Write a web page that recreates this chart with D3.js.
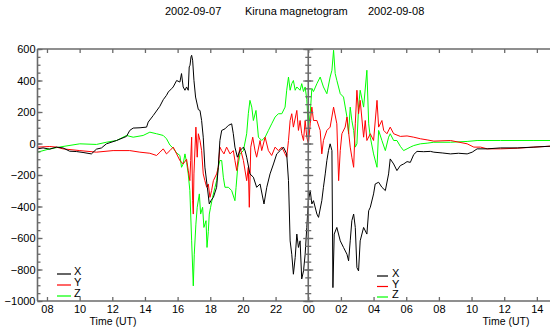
<!DOCTYPE html>
<html><head><meta charset="utf-8">
<script src="https://cdn.jsdelivr.net/npm/d3@7"></script>
<style>
body{margin:0;background:#fff}
svg{display:block}
text{font-family:"Liberation Sans",Arial,sans-serif;fill:#000}
</style>
</head><body>
<svg id="c" width="550" height="328"></svg>
<script>
// Time in decimal hours from 2002-09-07 00:00 UT, value in nT
const seriesX = [[7.42,-34],[7.76,-28],[8.17,-36],[8.58,-23],[8.98,-28],[9.39,-49],[9.80,-51],[10.21,-57],[10.72,-66],[11.03,-36],[11.34,-28],[11.64,-2],[12.26,19],[12.87,45],[13.07,83],[13.28,98],[13.70,100],[14.10,104],[14.20,136],[14.51,178],[14.91,236],[15.12,278],[15.32,306],[15.43,327],[15.63,348],[15.73,359],[15.94,400],[16.14,390],[16.24,444],[16.34,359],[16.45,338],[16.55,359],[16.65,338],[16.71,486],[16.76,497],[16.82,550],[16.86,560],[16.92,529],[17.00,401],[17.10,295],[17.27,215],[17.37,210],[17.47,146],[17.57,40],[17.67,-150],[17.82,-278],[17.94,-384],[18.04,-363],[18.19,-342],[18.39,-278],[18.49,-151],[18.59,19],[18.70,83],[18.90,93],[19.11,115],[19.31,125],[19.41,62],[19.51,-23],[19.66,-87],[19.82,-45],[20.03,-23],[20.13,-45],[20.23,-87],[20.43,-193],[20.64,-214],[20.84,-278],[21.05,-257],[21.29,-384],[21.46,-278],[21.66,-193],[21.87,-130],[22.07,-66],[22.28,-45],[22.48,-23],[22.68,-66],[22.79,-236],[22.89,-618],[22.99,-703],[23.09,-830],[23.20,-724],[23.30,-575],[23.40,-660],[23.50,-618],[23.60,-860],[23.71,-809],[23.81,-703],[23.91,-533],[24.01,-363],[24.12,-299],[24.22,-384],[24.32,-363],[24.53,-448],[24.63,-469],[24.83,-363],[24.93,-278],[25.04,-193],[25.14,-108],[25.24,-45],[25.34,-2],[25.45,-45],[25.51,-915],[25.59,-575],[25.75,-533],[25.96,-618],[26.16,-660],[26.37,-703],[26.47,-745],[26.57,-618],[26.67,-490],[26.78,-448],[26.88,-533],[26.98,-788],[27.08,-809],[27.18,-618],[27.39,-533],[27.59,-575],[27.70,-427],[27.80,-405],[28.00,-320],[28.10,-257],[28.31,-246],[28.51,-278],[28.72,-299],[28.92,-193],[29.02,-98],[29.23,-130],[29.43,-172],[29.64,-140],[29.84,-130],[30.05,-115],[30.25,-120],[30.46,-70],[30.66,-50],[31.07,-52],[31.48,-50],[31.69,-55],[32.20,-60],[32.71,-66],[33.20,-62],[33.73,-66],[34.04,-55],[34.34,-34],[34.96,-34],[35.77,-28],[36.80,-28],[37.82,-23],[38.84,-17],[39.0,-17]];

const seriesY = [[7.42,-23],[8.17,-19],[8.58,-23],[8.98,-34],[10.01,-45],[11.03,-55],[12.05,-45],[13.07,-45],[13.69,-55],[14.30,-62],[14.71,-76],[14.92,-55],[15.12,-34],[15.32,-66],[15.53,-45],[15.73,-23],[15.94,-66],[16.14,-108],[16.34,-130],[16.55,-100],[16.65,-170],[16.75,-236],[16.80,-108],[16.86,40],[16.92,-363],[16.96,-448],[17.00,-193],[17.12,104],[17.20,-87],[17.27,62],[17.37,19],[17.47,-45],[17.57,-193],[17.67,-236],[17.78,-278],[17.88,-257],[17.98,-342],[18.08,-299],[18.19,-236],[18.39,-193],[18.49,-151],[18.59,-23],[18.70,-45],[18.84,-66],[19.00,-23],[19.21,-66],[19.41,-45],[19.51,-108],[19.62,-172],[19.72,-87],[19.82,-23],[20.03,-108],[20.23,-236],[20.33,-151],[20.39,-405],[20.48,-23],[20.60,40],[20.74,-45],[20.84,-87],[21.05,19],[21.15,-45],[21.36,40],[21.56,-45],[21.76,-76],[21.97,-23],[22.17,-45],[22.38,-23],[22.58,-66],[22.68,-87],[22.79,19],[22.89,146],[22.99,189],[23.09,104],[23.30,210],[23.40,83],[23.50,146],[23.60,62],[23.71,19],[23.81,146],[23.91,40],[24.01,-2],[24.12,125],[24.22,231],[24.32,146],[24.53,146],[24.73,83],[24.83,-66],[24.93,19],[25.14,83],[25.34,104],[25.55,231],[25.75,125],[25.86,-236],[25.96,-45],[26.06,62],[26.26,104],[26.37,168],[26.57,-23],[26.67,-87],[26.78,-151],[26.88,125],[26.98,338],[27.08,189],[27.18,274],[27.39,40],[27.49,146],[27.59,19],[27.80,62],[28.00,19],[28.21,274],[28.31,104],[28.51,146],[28.62,83],[28.82,62],[29.02,104],[29.23,62],[29.64,45],[30.05,48],[30.46,40],[30.87,30],[31.28,23],[31.69,15],[32.71,19],[33.73,-2],[34.14,-23],[34.55,-23],[34.96,-34],[35.77,-34],[36.80,-30],[37.82,-23],[38.84,-17],[39.0,-17]];

const seriesZ = [[7.42,-55],[8.17,-34],[8.98,-19],[10.01,-2],[11.03,-6],[11.64,8],[12.26,19],[12.87,51],[13.28,40],[13.89,51],[14.30,72],[14.71,62],[15.12,51],[15.32,30],[15.53,-10],[15.73,-30],[15.94,-60],[16.14,-76],[16.24,-151],[16.34,-130],[16.45,-66],[16.55,-120],[16.65,-193],[16.75,-299],[16.86,-618],[16.96,-904],[17.02,-703],[17.12,-512],[17.20,-405],[17.33,-320],[17.41,-448],[17.53,-405],[17.61,-533],[17.74,-490],[17.80,-660],[17.88,-560],[17.94,-448],[18.02,-405],[18.14,-342],[18.29,-278],[18.39,-236],[18.49,-151],[18.59,-108],[18.70,-108],[18.80,-214],[18.90,-278],[19.11,-278],[19.31,-299],[19.51,-363],[19.58,-278],[19.68,-151],[19.82,-66],[20.03,-45],[20.23,62],[20.33,189],[20.43,274],[20.54,231],[20.64,146],[20.80,210],[20.95,40],[21.15,19],[21.36,40],[21.56,83],[21.76,125],[21.97,168],[22.17,189],[22.38,189],[22.58,231],[22.68,338],[22.79,422],[22.89,338],[22.99,380],[23.09,400],[23.20,338],[23.30,359],[23.50,338],[23.60,380],[23.71,330],[23.81,359],[23.91,280],[24.01,100],[24.12,189],[24.22,350],[24.32,330],[24.53,380],[24.73,422],[24.93,359],[25.14,316],[25.34,422],[25.45,465],[25.55,592],[25.65,444],[25.75,401],[25.96,316],[26.16,295],[26.37,168],[26.47,62],[26.57,231],[26.67,146],[26.78,83],[26.88,-23],[26.98,-2],[27.08,231],[27.18,338],[27.39,231],[27.59,465],[27.70,125],[27.80,40],[28.00,-66],[28.21,-151],[28.31,83],[28.51,19],[28.72,-45],[28.92,40],[29.02,62],[29.23,19],[29.43,19],[29.64,-18],[29.84,-45],[30.05,-34],[30.25,-23],[30.46,-13],[30.87,-2],[31.28,2],[31.69,8],[32.71,8],[33.73,13],[34.34,19],[35.77,19],[37.82,19],[38.84,19],[39.0,19]];

const seriesNames = ["X","Y","Z"];
const seriesColors = ["#000000","#ff0000","#00ff00"];
const xTickHours = [8,10,12,14,16,18,20,22,24,26,28,30,32,34,36,38];
const xTickLabels = ["08","10","12","14","16","18","20","22","00","02","04","06","08","10","12","14"];
const yTicks = [600,400,200,0,-200,-400,-600,-800,-1000];
const yMinorTicks = d3.range(-1000, 601, 50);
const titleParts = ["2002-09-07","Kiruna magnetogram","2002-09-08"];
const axisTitle = "Time (UT)";

const svg = d3.select("#c");
const L = 37.5, T = 49, B = 301;
const x = d3.scaleLinear().domain([7.42, 39.0]).range([L, L + (39.0 - 7.42) * 16.33]);
const y = d3.scaleLinear().domain([-1000, 600]).range([B, T]);
const R = x(39.0);
const midX = x(24);
const frameColor = "#6a6a6a";

svg.append("defs").append("clipPath").attr("id","clip")
  .append("rect").attr("x",L).attr("y",T).attr("width",R-L).attr("height",B-T);

// data lines
const line = d3.line().x(d => x(d[0])).y(d => y(d[1]));
const g = svg.append("g").attr("clip-path","url(#clip)");
[seriesZ, seriesY, seriesX].forEach((s, i) => {
  const ci = 2 - i;
  g.append("path").datum(s).attr("d", line)
    .attr("fill","none").attr("stroke", seriesColors[ci]).attr("stroke-width",1)
    .attr("stroke-linejoin","round");
});

function styleAxis(sel){
  sel.select(".domain").remove();
  sel.selectAll("line").attr("stroke", frameColor).attr("stroke-width",1.3);
  sel.selectAll("text").attr("font-size","11px").attr("font-family","'Liberation Sans',Arial,sans-serif").attr("fill","#000");
}

// left y axis: major with labels, minor ticks
svg.append("g").attr("transform",`translate(${L},0)`)
  .call(d3.axisLeft(y).tickValues(yMinorTicks).tickSizeInner(-3).tickSizeOuter(0).tickFormat(""))
  .call(styleAxis);
svg.append("g").attr("transform",`translate(${L},0)`)
  .call(d3.axisLeft(y).tickValues(yTicks).tickSizeInner(-5).tickSizeOuter(0).tickPadding(2).tickFormat(d3.format("d")))
  .call(styleAxis);

// divider axis at 00 UT: ticks both sides
[d3.axisLeft, d3.axisRight].forEach(ax => {
  svg.append("g").attr("transform",`translate(${midX},0)`)
    .call(ax(y).tickValues(yMinorTicks).tickSizeInner(-3).tickSizeOuter(0).tickFormat(""))
    .call(styleAxis);
  svg.append("g").attr("transform",`translate(${midX},0)`)
    .call(ax(y).tickValues(yTicks).tickSizeInner(-5).tickSizeOuter(0).tickFormat(""))
    .call(styleAxis);
});

// top axis
svg.append("g").attr("transform",`translate(0,${T})`)
  .call(d3.axisTop(x).tickValues(xTickHours).tickSizeInner(-4).tickSizeOuter(0).tickFormat(""))
  .call(styleAxis);
// bottom axis
svg.append("g").attr("transform",`translate(0,${B})`)
  .call(d3.axisBottom(x).tickValues(xTickHours).tickSizeInner(-4).tickSizeOuter(0).tickPadding(4)
    .tickFormat((d,i) => xTickLabels[i]))
  .call(styleAxis);

// frame
const frame = svg.append("g").attr("stroke",frameColor).attr("stroke-width",1.6).attr("fill","none");
frame.append("line").attr("x1",L).attr("x2",L).attr("y1",T).attr("y2",B);
frame.append("line").attr("x1",L).attr("x2",R).attr("y1",T).attr("y2",T);
frame.append("line").attr("x1",L).attr("x2",R).attr("y1",B).attr("y2",B);
frame.append("line").attr("x1",midX).attr("x2",midX).attr("y1",T).attr("y2",B);

// axis titles
[113, 506].forEach(cx => {
  svg.append("text").attr("x",cx).attr("y",325).attr("text-anchor","middle")
    .attr("font-size","10.5px").text(axisTitle);
});

// legends
const legends = [{x0:57, x1:71, tx:74, ys:[275,286,297]}, {x0:377, x1:388, tx:392, ys:[277,287.5,298]}];
legends.forEach(lg => {
  seriesNames.forEach((n,i) => {
    svg.append("line").attr("x1",lg.x0).attr("x2",lg.x1)
      .attr("y1",lg.ys[i]-1).attr("y2",lg.ys[i]-1)
      .attr("stroke",seriesColors[i]).attr("stroke-width",1.2);
    svg.append("text").attr("x",lg.tx).attr("y",lg.ys[i]).attr("font-size","11px").text(n);
  });
});

// title
const titleX = [165, 245, 368];
titleParts.forEach((t,i) => {
  svg.append("text").attr("x",titleX[i]).attr("y",15).attr("font-size","11px").text(t);
});
</script>
</body></html>
